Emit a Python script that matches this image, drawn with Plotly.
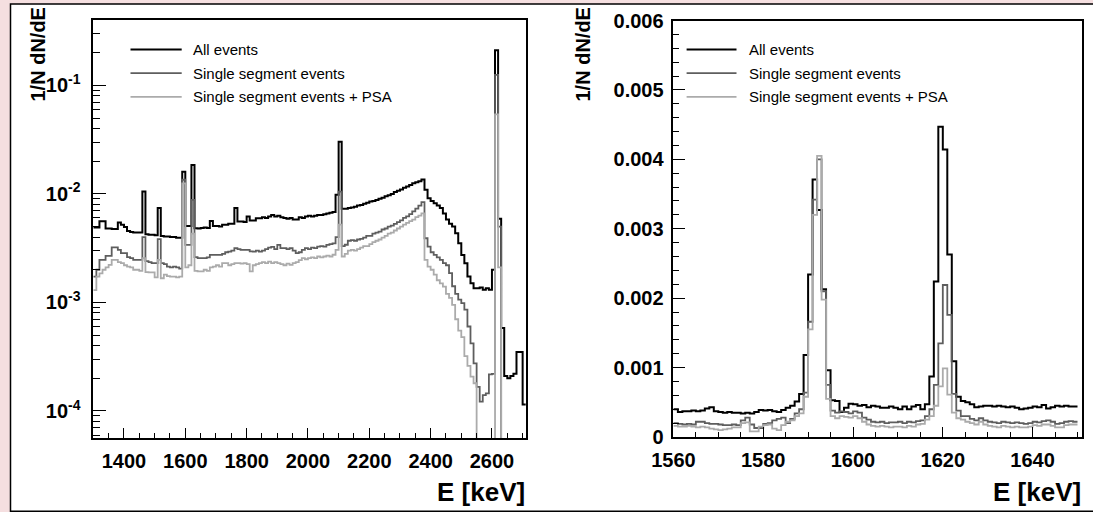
import numpy as np
import plotly.graph_objects as go

W, H = 1093, 512

# ---------------- Left panel: 10 keV bins, lower edges 1300 ... 2700 ----------------
left_start = 1300
left_width = 10
left_all = [
    4.9e-3, 4.9e-3, 5.6e-3, 5.6e-3, 4.8e-3, 4.8e-3, 4.75e-3, 4.75e-3, 5.45e-3, 5.2e-3,
    4.95e-3, 4.55e-3, 4.45e-3, 4.4e-3, 4.4e-3, 4.4e-3, 1.05e-2, 4.25e-3, 4.2e-3, 4.2e-3,
    4.15e-3, 7.4e-3, 4.1e-3, 4.05e-3, 4.05e-3, 4.0e-3, 4.0e-3, 3.95e-3, 3.95e-3, 1.6e-2,
    5.07e-3, 5.07e-3, 1.85e-2, 4.83e-3, 4.8e-3, 4.85e-3, 4.9e-3, 4.85e-3, 5.64e-3, 5.07e-3,
    5.07e-3, 5.0e-3, 5.2e-3, 5.2e-3, 5.3e-3, 5.3e-3, 7.4e-3, 5.56e-3, 5.56e-3, 5.5e-3,
    6.2e-3, 5.68e-3, 5.7e-3, 5.97e-3, 5.97e-3, 6.1e-3, 6.0e-3, 6.2e-3, 6.4e-3, 6.2e-3,
    6.3e-3, 6.1e-3, 6.0e-3, 5.9e-3, 6.0e-3, 5.8e-3, 5.8e-3, 6.1e-3, 6.0e-3, 6.2e-3,
    6.3e-3, 6.2e-3, 6.3e-3, 6.4e-3, 6.4e-3, 6.5e-3, 6.6e-3, 6.7e-3, 6.8e-3, 9.8e-3,
    3.03e-2, 7.3e-3, 7.3e-3, 7.4e-3, 7.5e-3, 7.6e-3, 7.8e-3, 7.9e-3, 8.1e-3, 8.3e-3,
    8.5e-3, 8.6e-3, 8.8e-3, 9.0e-3, 9.2e-3, 9.5e-3, 9.7e-3, 1.0e-2, 1.04e-2, 1.07e-2,
    1.1e-2, 1.14e-2, 1.17e-2, 1.21e-2, 1.25e-2, 1.28e-2, 1.31e-2, 1.36e-2, 1.09e-2, 9.1e-3,
    8.6e-3, 8.2e-3, 7.8e-3, 7.4e-3, 6.6e-3, 5.8e-3, 5.3e-3, 5.0e-3, 4.35e-3, 3.5e-3,
    2.74e-3, 2.3e-3, 1.73e-3, 1.5e-3, 1.35e-3, 1.35e-3, 1.37e-3, 1.31e-3, 1.35e-3, 1.31e-3,
    2.0e-3, 0.21, 5.9e-3, 5.8e-4, 2.1e-4, 2.0e-4, 2.1e-4, 2.2e-4, 3.5e-4, 3.5e-4,
    1.15e-4,
]
left_single = [
    1.73e-3, 2.0e-3, 2.47e-3, 2.47e-3, 2.69e-3, 2.69e-3, 3.21e-3, 3.21e-3, 3.05e-3, 2.84e-3,
    2.84e-3, 2.61e-3, 2.56e-3, 2.47e-3, 2.47e-3, 2.47e-3, 3.99e-3, 2.4e-3, 2.35e-3, 2.3e-3,
    2.3e-3, 3.83e-3, 2.3e-3, 2.25e-3, 2.14e-3, 2.1e-3, 2.14e-3, 2.1e-3, 2.05e-3, 1.35e-2,
    3.39e-3, 3.39e-3, 8.8e-3, 2.61e-3, 2.56e-3, 2.56e-3, 2.56e-3, 2.6e-3, 2.74e-3, 2.74e-3,
    2.74e-3, 2.74e-3, 2.8e-3, 2.9e-3, 2.94e-3, 3.0e-3, 3.16e-3, 3.1e-3, 3.05e-3, 3.05e-3,
    3.05e-3, 2.95e-3, 2.94e-3, 3.0e-3, 2.94e-3, 3.0e-3, 3.1e-3, 3.2e-3, 3.25e-3, 3.1e-3,
    3.39e-3, 3.16e-3, 3.16e-3, 3.1e-3, 3.16e-3, 3.0e-3, 2.84e-3, 2.9e-3, 3.05e-3, 3.16e-3,
    3.1e-3, 3.2e-3, 3.16e-3, 3.27e-3, 3.3e-3, 3.27e-3, 3.39e-3, 3.45e-3, 3.5e-3, 3.99e-3,
    1.05e-2, 3.3e-3, 3.4e-3, 3.7e-3, 3.75e-3, 3.7e-3, 3.8e-3, 3.85e-3, 3.95e-3, 4.1e-3,
    4.1e-3, 4.3e-3, 4.4e-3, 4.5e-3, 4.7e-3, 4.8e-3, 5.0e-3, 5.1e-3, 5.3e-3, 5.5e-3,
    5.7e-3, 6.0e-3, 6.2e-3, 6.5e-3, 6.9e-3, 7.3e-3, 7.8e-3, 8.4e-3, 3.9e-3, 3.27e-3,
    2.9e-3, 2.74e-3, 2.6e-3, 2.47e-3, 2.3e-3, 2.2e-3, 1.86e-3, 1.41e-3, 1.2e-3, 1.06e-3,
    9.85e-4, 8.6e-4, 6.0e-4, 4.2e-4, 2.75e-4, 1.67e-4, 1.22e-4, 1.4e-4, 1.45e-4, 2.17e-4,
    2.2e-4, 0.125, 5.0e-3, 0, 0, 0, 0, 0, 0, 0,
    0,
]
left_psa = [
    1.3e-3, 1.73e-3, 1.85e-3, 2.0e-3, 2.1e-3, 2.22e-3, 2.47e-3, 2.47e-3, 2.35e-3, 2.3e-3,
    2.2e-3, 2.14e-3, 2.1e-3, 2.0e-3, 2.0e-3, 1.95e-3, 2.56e-3, 1.9e-3, 1.89e-3, 1.89e-3,
    1.7e-3, 2.47e-3, 1.67e-3, 1.8e-3, 1.75e-3, 1.73e-3, 1.73e-3, 1.7e-3, 1.73e-3, 1.25e-2,
    2.1e-3, 2.2e-3, 4.3e-3, 1.95e-3, 1.93e-3, 1.93e-3, 2.0e-3, 1.95e-3, 2.1e-3, 2.14e-3,
    2.2e-3, 2.14e-3, 2.3e-3, 2.3e-3, 2.2e-3, 2.25e-3, 2.3e-3, 2.3e-3, 2.28e-3, 2.3e-3,
    2.25e-3, 1.93e-3, 2.2e-3, 2.25e-3, 2.3e-3, 2.35e-3, 2.3e-3, 2.38e-3, 2.3e-3, 2.35e-3,
    2.3e-3, 2.25e-3, 2.2e-3, 2.28e-3, 2.22e-3, 2.3e-3, 2.35e-3, 2.45e-3, 2.56e-3, 2.5e-3,
    2.56e-3, 2.6e-3, 2.56e-3, 2.65e-3, 2.6e-3, 2.65e-3, 2.7e-3, 2.65e-3, 2.75e-3, 3.05e-3,
    5.2e-3, 2.65e-3, 2.8e-3, 3.0e-3, 3.05e-3, 3.0e-3, 3.1e-3, 3.2e-3, 3.3e-3, 3.3e-3,
    3.45e-3, 3.6e-3, 3.7e-3, 3.8e-3, 3.95e-3, 4.1e-3, 4.3e-3, 4.4e-3, 4.6e-3, 4.8e-3,
    5.0e-3, 5.2e-3, 5.4e-3, 5.6e-3, 5.8e-3, 6.1e-3, 6.3e-3, 6.6e-3, 2.47e-3, 2.14e-3,
    2.0e-3, 1.8e-3, 1.6e-3, 1.5e-3, 1.4e-3, 1.2e-3, 1.1e-3, 9.5e-4, 7.0e-4, 5.5e-4,
    4.8e-4, 3.2e-4, 2.6e-4, 2.07e-4, 1.8e-4, 0, 0, 0, 0, 0,
    0, 0.054, 2.1e-3, 0, 0, 0, 0, 0, 0, 0,
    0,
]

# ---------------- Right panel: 1 keV bins, lower edges 1560 ... 1649 (units of 1e-3) ----------------
right_start = 1560
right_width = 1
right_all = [
    0.40, 0.36, 0.37, 0.37, 0.38, 0.37, 0.38, 0.41, 0.43, 0.37,
    0.36, 0.35, 0.36, 0.35, 0.35, 0.34, 0.35, 0.34, 0.36, 0.39,
    0.38, 0.39, 0.37, 0.36, 0.39, 0.42, 0.45, 0.51, 0.62, 1.18,
    2.34, 3.71, 3.27, 2.13, 0.96, 0.53, 0.52, 0.36, 0.42, 0.48,
    0.47, 0.45, 0.46, 0.43, 0.45, 0.44, 0.42, 0.42, 0.44, 0.42,
    0.40, 0.44, 0.40, 0.44, 0.46, 0.40, 0.47, 0.87, 2.24, 4.47,
    4.14, 2.63, 1.09, 0.58, 0.52, 0.50, 0.47, 0.43, 0.44, 0.45,
    0.45, 0.44, 0.45, 0.44, 0.43, 0.44, 0.42, 0.40, 0.41, 0.42,
    0.44, 0.43, 0.46, 0.41, 0.43, 0.45, 0.44, 0.45, 0.44, 0.44,
]
right_single = [
    0.20, 0.19, 0.18, 0.19, 0.18, 0.22, 0.22, 0.20, 0.19, 0.19,
    0.18, 0.17, 0.17, 0.18, 0.17, 0.24, 0.28, 0.18, 0.13, 0.13,
    0.19, 0.20, 0.24, 0.26, 0.28, 0.20, 0.26, 0.34, 0.40, 0.64,
    1.66, 3.42, 4.00, 2.10, 0.75, 0.38, 0.35, 0.37, 0.36, 0.34,
    0.37, 0.35, 0.28, 0.25, 0.22, 0.21, 0.22, 0.20, 0.21, 0.21,
    0.22, 0.20, 0.22, 0.21, 0.23, 0.24, 0.30, 0.40, 0.75, 1.35,
    2.19, 1.76, 0.62, 0.38, 0.30, 0.30, 0.26, 0.24, 0.27, 0.24,
    0.22, 0.21, 0.20, 0.22, 0.21, 0.20, 0.21, 0.20, 0.19, 0.20,
    0.22, 0.21, 0.23, 0.24, 0.22, 0.19, 0.20, 0.22, 0.23, 0.22,
]
right_psa = [
    0.16, 0.15, 0.15, 0.16, 0.15, 0.14, 0.15, 0.14, 0.12, 0.11,
    0.10, 0.11, 0.12, 0.14, 0.14, 0.20, 0.21, 0.08, 0.08, 0.15,
    0.17, 0.18, 0.12, 0.10, 0.17, 0.22, 0.24, 0.30, 0.34, 0.58,
    1.55, 3.20, 4.05, 1.98, 0.55, 0.30, 0.27, 0.30, 0.29, 0.28,
    0.30, 0.27, 0.22, 0.18, 0.16, 0.15, 0.16, 0.15, 0.14, 0.15,
    0.15, 0.14, 0.16, 0.15, 0.18, 0.19, 0.25, 0.30, 0.45, 0.73,
    0.99, 0.61, 0.35, 0.27, 0.25, 0.22, 0.20, 0.18, 0.22, 0.18,
    0.16, 0.15, 0.14, 0.16, 0.15, 0.14, 0.15, 0.14, 0.14, 0.15,
    0.17, 0.16, 0.18, 0.18, 0.16, 0.14, 0.14, 0.17, 0.18, 0.18,
]

series_names = ["All events", "Single segment events", "Single segment events + PSA"]
series_colors = ["#000000", "#5e5e5e", "#ababab"]
series_widths = [2.0, 1.8, 1.8]

x_left_ticks = [1400, 1600, 1800, 2000, 2200, 2400, 2600]
y_left_ticks = [1e-4, 1e-3, 1e-2, 1e-1]
y_left_text = ["10<sup>-4</sup>", "10<sup>-3</sup>", "10<sup>-2</sup>", "10<sup>-1</sup>"]
x_right_ticks = [1560, 1580, 1600, 1620, 1640]
y_right_ticks = [0, 0.001, 0.002, 0.003, 0.004, 0.005, 0.006]
y_right_text = ["0", "0.001", "0.002", "0.003", "0.004", "0.005", "0.006"]


def step_xy(start, width, vals, scale=1.0, floor=None):
    x = [start + i * width for i in range(len(vals) + 1)]
    y = [v * scale for v in vals] + [vals[-1] * scale]
    if floor is not None:
        y = [v if v > 0 else floor for v in y]
    return x, y


fig = go.Figure()

for vals, name, col, lw in zip([left_all, left_single, left_psa], series_names, series_colors, series_widths):
    x, y = step_xy(left_start, left_width, vals, floor=1e-8)
    fig.add_trace(go.Scatter(x=x, y=y, mode="lines", line=dict(shape="hv", color=col, width=lw),
                             name=name, xaxis="x", yaxis="y", hoverinfo="skip"))

for vals, name, col, lw in zip([right_all, right_single, right_psa], series_names, series_colors, series_widths):
    x, y = step_xy(right_start, right_width, vals, scale=1e-3)
    fig.add_trace(go.Scatter(x=x, y=y, mode="lines", line=dict(shape="hv", color=col, width=lw),
                             name=name, xaxis="x2", yaxis="y2", hoverinfo="skip"))

FONT = "Liberation Sans, Arial, Helvetica, sans-serif"
tickfont = dict(family=FONT, size=20, color="black", weight="bold")

common = dict(showline=True, linecolor="black", linewidth=1.6, mirror=True, ticks="inside",
              tickcolor="black", tickwidth=1.3, showgrid=False, zeroline=False, tickfont=tickfont,
              automargin=False)

minor_log = [k * 10.0 ** e for e in range(-5, 0) for k in range(2, 10)]

fig.update_layout(
    width=W, height=H, margin=dict(l=0, r=0, t=0, b=0, pad=0, autoexpand=False),
    paper_bgcolor="#f5dfe0", plot_bgcolor="white", showlegend=False,
    xaxis=dict(domain=[93.3 / W, 526.0 / W], range=[1300, 2711], anchor="y",
               tickmode="array", tickvals=x_left_ticks, ticklen=11, ticklabelstandoff=4,
               minor=dict(ticks="inside", ticklen=6, tickcolor="black", tickwidth=1.3,
                          dtick=50, tick0=1300, showgrid=False), **common),
    yaxis=dict(domain=[1 - 438.3 / H, 1 - 20.0 / H], type="log",
               range=[np.log10(5.6e-5), np.log10(0.4)], anchor="x",
               tickmode="array", tickvals=y_left_ticks, ticktext=y_left_text, ticklen=13,
               ticklabelstandoff=7,
               minor=dict(ticks="inside", ticklen=7, tickcolor="black", tickwidth=1.3,
                          tickmode="array", tickvals=minor_log, showgrid=False), **common),
    xaxis2=dict(domain=[673.4 / W, 1082.0 / W], range=[1560, 1651], anchor="y2",
                tickmode="array", tickvals=x_right_ticks, ticklen=10, ticklabelstandoff=4,
                minor=dict(ticks="inside", ticklen=5, tickcolor="black", tickwidth=1.3,
                           dtick=5, tick0=1560, showgrid=False), **common),
    yaxis2=dict(domain=[1 - 437.0 / H, 1 - 20.5 / H], range=[0, 0.006], anchor="x2",
                tickmode="array", tickvals=y_right_ticks, ticktext=y_right_text, ticklen=12,
                ticklabelstandoff=4,
                minor=dict(ticks="inside", ticklen=6, tickcolor="black", tickwidth=1.3,
                           dtick=0.0002, tick0=0, showgrid=False), **common),
)

# white panel with black border
fig.add_shape(type="rect", xref="paper", yref="paper", x0=10.5 / W, x1=1.01,
              y0=1 - 511.3 / H, y1=1 - 4.0 / H, fillcolor="white",
              line=dict(color="black", width=1.5), layer="below")

annotations = []

# legends (drawn manually, as in the original)
for (lx0, lx1, tx) in [(130.5, 181.7, 191.0), (686.6, 736.5, 747.0)]:
    for row, (name, col, lw) in enumerate(zip(series_names, series_colors, series_widths)):
        yy = 49.5 + row * 23.7
        fig.add_shape(type="line", xref="paper", yref="paper",
                      x0=lx0 / W, x1=lx1 / W, y0=1 - yy / H, y1=1 - yy / H,
                      line=dict(color=col, width=lw))
        annotations.append(dict(xref="paper", yref="paper", x=tx / W, y=1 - yy / H,
                                text=name, showarrow=False, xanchor="left", yanchor="middle",
                                font=dict(family=FONT, size=15, color="black")))

# axis titles
for cx in [37.5, 582.5]:
    annotations.append(dict(xref="paper", yref="paper", x=cx / W, y=1 - 55.0 / H,
                            text="1/N dN/dE", showarrow=False, textangle=-90,
                            xanchor="center", yanchor="middle",
                            font=dict(family=FONT, size=20, color="black", weight="bold")))
for rx in [526.5, 1082.5]:
    annotations.append(dict(xref="paper", yref="paper", x=rx / W, y=1 - 492.0 / H,
                            text="E [keV]", showarrow=False, xanchor="right", yanchor="middle",
                            font=dict(family=FONT, size=26, color="black", weight="bold")))

fig.update_layout(annotations=annotations)

fig.write_html("out.html")
